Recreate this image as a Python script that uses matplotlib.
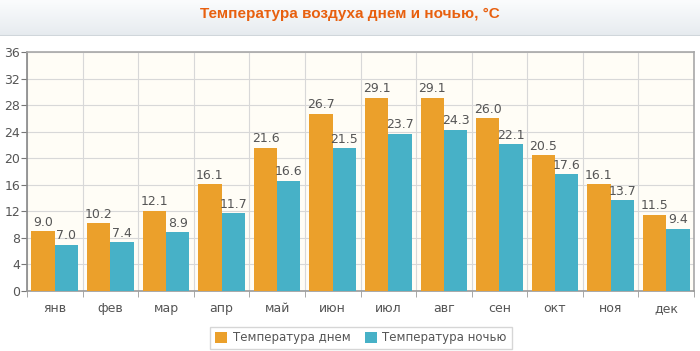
import numpy as np
import matplotlib
matplotlib.use('Agg')
import matplotlib.pyplot as plt

months = ['янв', 'фев', 'мар', 'апр', 'май', 'июн', 'июл', 'авг', 'сен', 'окт', 'ноя', 'дек']
day_t = [9.0, 10.2, 12.1, 16.1, 21.6, 26.7, 29.1, 29.1, 26.0, 20.5, 16.1, 11.5]
night_t = [7.0, 7.4, 8.9, 11.7, 16.6, 21.5, 23.7, 24.3, 22.1, 17.6, 13.7, 9.4]
y_ticks = [0, 4, 8, 12, 16, 20, 24, 28, 32, 36]

C_DAY = '#EBA02B'
C_NIGHT = '#47B1C7'
C_TXT = '#555555'

W, H = 700, 351
fig = plt.figure(figsize=(7, 3.51), dpi=100)
fig.patch.set_facecolor('white')

# header band with soft gradient
hdr = fig.add_axes([0, 1 - 36 / H, 1, 36 / H])
hdr.axis('off')
grad = np.linspace(0, 1, 50).reshape(-1, 1)
hdr.imshow(grad, aspect='auto', extent=[0, 1, 0, 1],
           cmap=matplotlib.colors.LinearSegmentedColormap.from_list('g', ['#E6EBEF', '#FBFCFD']),
           origin='lower')
hdr.plot([0, 1], [0.01, 0.01], color='#D0D6DB', lw=1.5)
hdr.set_xlim(0, 1)
hdr.set_ylim(0, 1)
fig.text(0.5, 1 - 14 / H, 'Температура воздуха днем и ночью, °C', ha='center', va='center',
         fontsize=11, fontweight='bold', color='#E8600F', family='Liberation Sans')

ax = fig.add_axes([27 / W, (H - 291) / H, (694 - 27) / W, (291 - 52) / H])
ax.set_facecolor('#FFFDF6')

x = np.arange(len(months))
bw = 0.42
b1 = ax.bar(x - bw / 2, day_t, bw, color=C_DAY, label='Температура днем', zorder=3)
b2 = ax.bar(x + bw / 2, night_t, bw, color=C_NIGHT, label='Температура ночью', zorder=3)
for bars, vals in ((b1, day_t), (b2, night_t)):
    for b, v in zip(bars, vals):
        ax.text(b.get_x() + b.get_width() / 2, v + 0.35, f'{v:.1f}', ha='center', va='bottom',
                fontsize=9, color=C_TXT, zorder=4)

ax.set_xlim(-0.5, len(months) - 0.5)
ax.set_ylim(0, 36)
ax.set_yticks(y_ticks)
ax.set_yticklabels([str(t) for t in y_ticks], fontsize=9, color=C_TXT)
ax.set_xticks(x)
ax.set_xticklabels(months, fontsize=9, color=C_TXT)
ax.tick_params(axis='x', length=0, pad=8)
ax.set_xticks(np.arange(-0.5, len(months)), minor=True)
ax.tick_params(axis='x', which='minor', length=4, color='#999999', direction='out')
ax.tick_params(axis='y', length=4, color='#777777', pad=1)
ax.grid(True, which='minor', axis='x', color='#D8D8D8', lw=0.8, zorder=0)
ax.grid(True, which='major', axis='y', color='#D8D8D8', lw=0.8, zorder=0)
for s in ['top', 'right']:
    ax.spines[s].set_color('#A8A8A8')
ax.spines['left'].set_color('#888888')
ax.spines['bottom'].set_color('#999999')
for s in ax.spines.values():
    s.set_linewidth(1.2)

leg = fig.legend(handles=[b1, b2], loc='center', bbox_to_anchor=(361 / W, 1 - 338 / H),
                 ncol=2, fontsize=8.5, frameon=True, fancybox=False, edgecolor='#CCCCCC',
                 handlelength=1.0, handleheight=1.0, columnspacing=1.2, handletextpad=0.5,
                 borderpad=0.4)
for t in leg.get_texts():
    t.set_color(C_TXT)

fig.savefig('out.png', dpi=100)
